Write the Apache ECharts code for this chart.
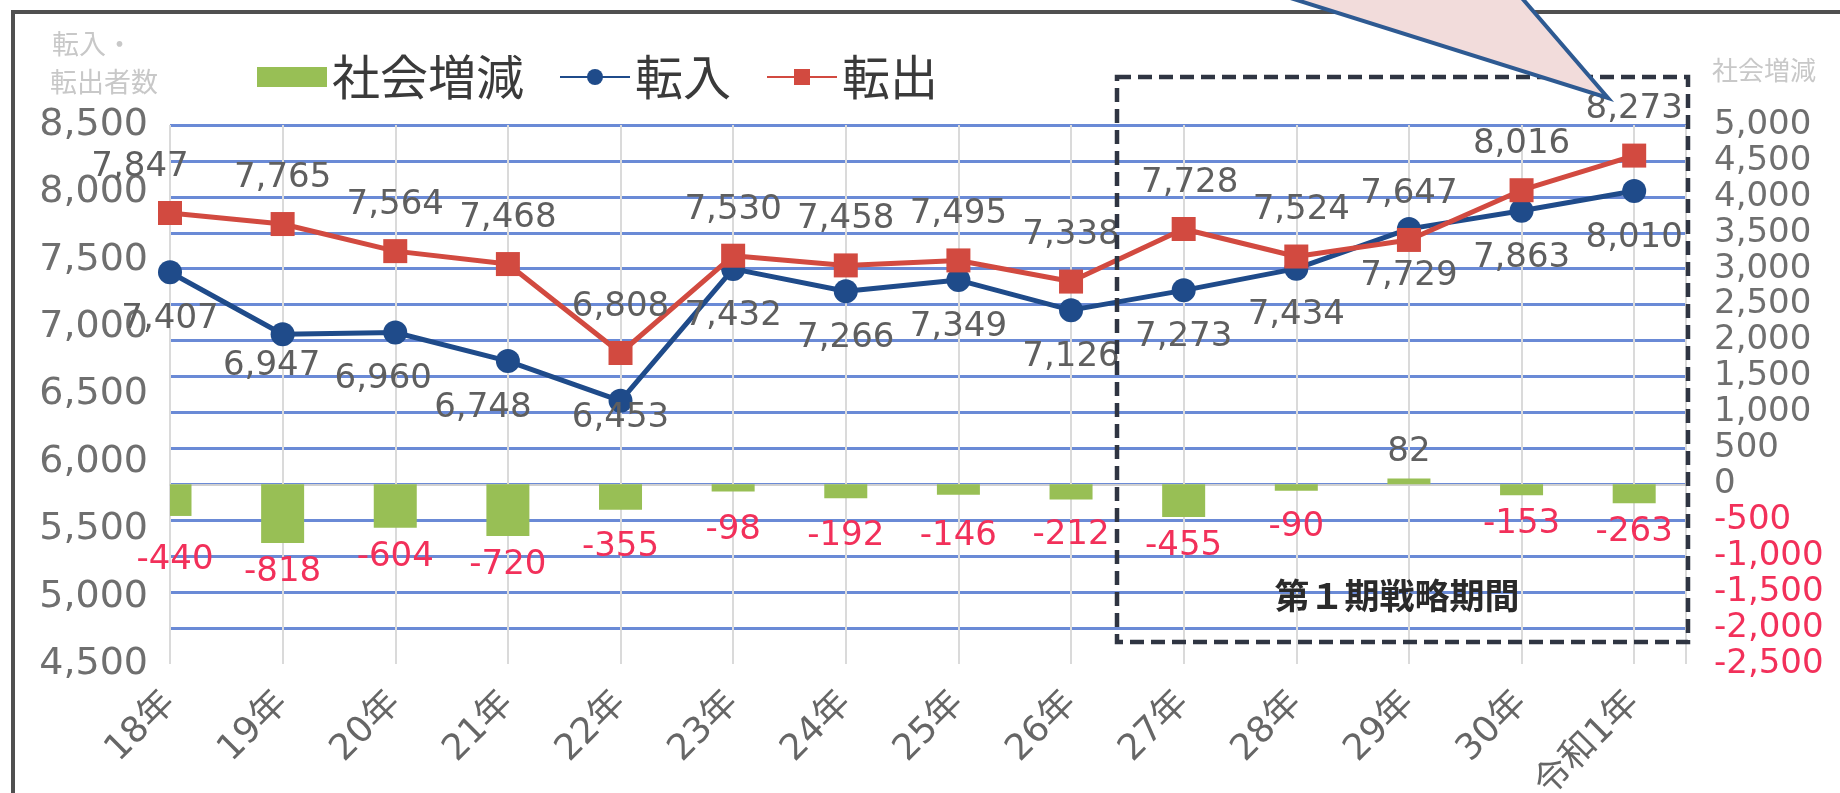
<!DOCTYPE html>
<html><head><meta charset="utf-8">
<script src="https://cdn.jsdelivr.net/npm/echarts@6/dist/echarts.min.js"></script>
<style>html,body{margin:0;padding:0;background:#fff}#c{width:1840px;height:793px}</style>
</head><body><div id="c"></div>
<script>
const categories = ['18年','19年','20年','21年','22年','23年','24年','25年','26年','27年','28年','29年','30年','令和1年'];
const inflow = [7407,6947,6960,6748,6453,7432,7266,7349,7126,7273,7434,7729,7863,8010];
const outflow = [7847,7765,7564,7468,6808,7530,7458,7495,7338,7728,7524,7647,8016,8273];
const socialChange = [-440,-818,-604,-720,-355,-98,-192,-146,-212,-455,-90,82,-153,-263];
const leftAxisRange = [4500, 8500];
const rightAxisRange = [-2500, 5000];
const seriesNames = ['社会増減','転入','転出'];
const leftAxisTitle = ['転入・','転出者数'];
const rightAxisTitle = '社会増減';
const periodTitle = '第１期戦略期間';

const NUM = '"DejaVu Sans", "Noto Sans CJK JP", sans-serif';
const CJK = '"Noto Sans CJK JP", sans-serif';
const fmt = v => Number(v).toLocaleString('en-US');
const RED_TXT = '#f2305a';
const GRAY_TXT = '#5f5f5f';
const BAR_COLOR = '#98bf55';
const BAR_W = 43;

// label nudges (pixels) for a few crowded points
const inShift = {1: [-11, -15], 2: [-12, 0], 3: [-25, 0], 4: [0, -30]};
const outShift = {0: [-30, 0], 9: [6, 0], 10: [5, 0]};
const barLabelNudge = {0: [5, 15], 4: [0, 8], 5: [0, 10], 6: [0, 9], 7: [0, 12], 8: [0, 7], 10: [0, 7]};

function renderBar(params, api) {
  const i = api.value(0), v = api.value(1);
  const base = api.coord([i, 0]);
  const end = api.coord([i, v]);
  const cs = params.coordSys;
  const rect = echarts.graphic.clipRectByRect(
    {x: base[0] - BAR_W / 2, y: Math.min(base[1], end[1]), width: BAR_W, height: Math.abs(end[1] - base[1])},
    {x: cs.x, y: cs.y, width: cs.width, height: cs.height});
  const neg = v < 0;
  const nd = barLabelNudge[i] || [0, 0];
  const children = [];
  if (rect) children.push({type: 'rect', shape: rect, style: {fill: BAR_COLOR}});
  children.push({
    type: 'text', x: end[0] + nd[0], y: end[1] + (neg ? 12 : -9) + nd[1], z2: 10,
    style: {text: fmt(v), fill: neg ? RED_TXT : GRAY_TXT, fontSize: 34, fontFamily: NUM,
            align: 'center', verticalAlign: neg ? 'top' : 'bottom'}
  });
  return {type: 'group', children};
}

const chart = echarts.init(document.getElementById('c'));
chart.setOption({
  animation: false,
  backgroundColor: '#fff',
  grid: {left: 170, right: 154, top: 125, bottom: 129, containLabel: false, outerBoundsMode: 'none'},
  legend: {
    left: 252, top: 48,
    itemWidth: 70, itemHeight: 20, itemGap: 35,
    textStyle: {fontSize: 48, fontFamily: CJK, color: '#3a3a3a'},
    data: [{name: seriesNames[0], icon: 'rect'}, {name: seriesNames[1]}, {name: seriesNames[2]}]
  },
  xAxis: {
    type: 'value', min: 0, max: 13.46, interval: 1,
    axisLine: {show: true, lineStyle: {color: '#d0d0d0', width: 2}},
    axisTick: {show: false},
    splitLine: {show: true, lineStyle: {color: '#dadada', width: 2}},
    axisLabel: {
      rotate: 45, margin: 34, color: '#666', fontSize: 36, fontFamily: NUM,
      formatter: v => (Number.isInteger(v) && categories[v] !== undefined) ? categories[v] : ''
    }
  },
  yAxis: [
    {
      type: 'value', min: leftAxisRange[0], max: leftAxisRange[1], interval: 500, position: 'left',
      axisLine: {show: false}, axisTick: {show: false}, splitLine: {show: false},
      axisLabel: {color: '#6f6f6f', fontSize: 38, fontFamily: NUM, margin: 22, formatter: fmt}
    },
    {
      type: 'value', min: rightAxisRange[0], max: rightAxisRange[1], interval: 500, position: 'right',
      axisLine: {show: false}, axisTick: {show: false},
      splitLine: {show: true, showMinLine: false, lineStyle: {color: '#6a8ad6', width: 3}},
      axisLabel: {
        fontSize: 34, fontFamily: NUM, margin: 28, formatter: fmt,
        color: v => Number(v) < 0 ? RED_TXT : '#6f6f6f'
      }
    }
  ],
  series: [
    {
      type: 'custom', name: seriesNames[0], xAxisIndex: 0, yAxisIndex: 1,
      itemStyle: {color: BAR_COLOR},
      encode: {x: 0, y: 1},
      renderItem: renderBar,
      data: socialChange.map((v, i) => [i, v]),
      z: 2
    },
    {
      type: 'line', name: seriesNames[1], yAxisIndex: 0, symbol: 'circle', symbolSize: 24,
      lineStyle: {color: '#1f4b8a', width: 5}, itemStyle: {color: '#1f4b8a'},
      label: {show: true, position: 'bottom', distance: 18, color: GRAY_TXT, fontSize: 34, fontFamily: NUM,
              formatter: p => fmt(p.value[1])},
      data: inflow.map((v, i) => ({value: [i, v], label: inShift[i] ? {offset: inShift[i]} : undefined})),
      z: 3
    },
    {
      type: 'line', name: seriesNames[2], yAxisIndex: 0, symbol: 'rect', symbolSize: 24,
      lineStyle: {color: '#d24a40', width: 5}, itemStyle: {color: '#d24a40'},
      label: {show: true, position: 'top', distance: 17, color: GRAY_TXT, fontSize: 34, fontFamily: NUM,
              formatter: p => fmt(p.value[1])},
      data: outflow.map((v, i) => ({value: [i, v], label: outShift[i] ? {offset: outShift[i]} : undefined})),
      z: 4
    }
  ],
  graphic: [
    {type: 'rect', z: 0, silent: true, shape: {x: 13, y: 12, width: 1900, height: 900},
     style: {fill: 'none', stroke: '#505050', lineWidth: 4}},
    {type: 'text', z: 10, left: 52, top: 30, style: {text: leftAxisTitle[0], fontSize: 27, fontFamily: CJK, fill: '#c8c8c8'}},
    {type: 'text', z: 10, left: 50, top: 68, style: {text: leftAxisTitle[1], fontSize: 27, fontFamily: CJK, fill: '#c8c8c8'}},
    {type: 'text', z: 10, left: 1712, top: 57, style: {text: rightAxisTitle, fontSize: 26, fontFamily: CJK, fill: '#c8c8c8'}},
    {type: 'rect', z: 50, silent: true, shape: {x: 1117, y: 77, width: 571, height: 565},
     style: {fill: 'none', stroke: '#2f3542', lineWidth: 4.5, lineDash: [14, 7]}},
    {type: 'text', z: 50, x: 1397, y: 596, style: {text: periodTitle, fontSize: 35, fontWeight: 'bold', fontFamily: CJK, fill: '#2a2a2a',
      align: 'center', verticalAlign: 'middle'}},
    {type: 'polygon', z: 100, silent: true, shape: {points: [[1265, -10], [1515, -10], [1608, 98]]},
     style: {fill: '#f2dcdb', stroke: '#2e5a92', lineWidth: 4}}
  ]
});
</script>
</body></html>
